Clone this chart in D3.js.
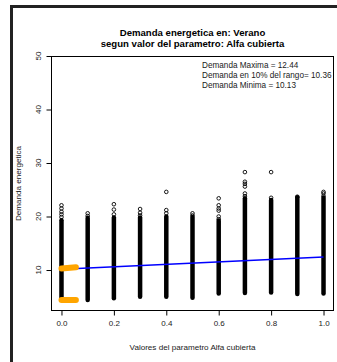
<!DOCTYPE html>
<html>
<head>
<meta charset="utf-8">
<script src="https://cdn.jsdelivr.net/npm/d3@7"></script>
<style>
html,body{margin:0;padding:0;background:#fff;}
svg{display:block;font-family:"Liberation Sans",Arial,Helvetica,sans-serif;}
</style>
</head>
<body>
<svg id="chart" width="337" height="362"></svg>
<script>
// ---- data ----
const categories = [0.0, 0.1, 0.2, 0.3, 0.4, 0.5, 0.6, 0.7, 0.8, 0.9, 1.0];
// dense part of each column (min and top of solid body)
const bodyLow  = [4.5, 4.4, 4.7, 5.0, 5.0, 4.8, 5.6, 5.7, 5.8, 5.5, 5.6];
const bodyHigh = [19.3, 19.7, 19.8, 19.8, 20.0, 19.9, 19.2, 23.4, 23.1, 23.6, 23.5];
// separately visible points above each column
const outliers = [
  [22.1, 21.5, 20.9, 20.4, 19.9],
  [20.6, 20.1],
  [22.3, 21.3, 20.4],
  [21.4, 20.7, 20.2],
  [24.6, 21.2, 20.6],
  [20.6, 20.2],
  [23.4, 22.1, 21.5, 21.1, 20.0, 19.5],
  [28.3, 26.5, 26.1, 25.6, 24.3, 23.8],
  [28.3, 23.5],
  [23.7],
  [24.6, 24.3, 23.8]
];
const yTicks = [10, 20, 30, 40, 50];
const xTicks = [0.0, 0.2, 0.4, 0.6, 0.8, 1.0];
const trendX = [0.0, 1.0];
const trendY = [10.13, 12.44];
const markX = [0.0, 0.055];
const markUpper = [10.30, 10.50];
const markLower = [4.39, 4.39];
const titleLines = ["Demanda energetica en: Verano", "segun valor del parametro: Alfa cubierta"];
const legendLines = ["Demanda Maxima = 12.44", "Demanda en 10% del rango= 10.36", "Demanda Minima = 10.13"];
const xLabel = "Valores del parametro Alfa cubierta";
const yLabel = "Demanda energetica";

// ---- layout ----
const L = 51, R = 334, T = 56, B = 311;
const svg = d3.select("#chart");
const x = d3.scaleLinear().domain([-0.04, 1.04]).range([L, R]);
const y = d3.scaleLinear().domain([2.34, 50]).range([B, T]);
const txt = "#1a1a1a";

// outer frame
svg.append("rect").attr("x", 11.5).attr("y", 6.5).attr("width", 400).attr("height", 400)
  .attr("fill", "none").attr("stroke", "#222").attr("stroke-width", 3);

// title
svg.selectAll("text.title").data(titleLines).enter().append("text")
  .attr("class", "title")
  .attr("x", (L + R) / 2).attr("y", (d, i) => 35.5 + i * 11.5)
  .attr("text-anchor", "middle").attr("font-weight", "bold").attr("font-size", 9.6)
  .attr("fill", "#000")
  .text(d => d);

// columns
const rr = 1.8, sw = 0.9;
const g = svg.append("g");
categories.forEach((c, i) => {
  g.append("rect")
    .attr("x", x(c) - rr - sw / 2).attr("width", 2 * rr + sw)
    .attr("y", y(bodyHigh[i]) - rr - sw / 2)
    .attr("height", y(bodyLow[i]) - y(bodyHigh[i]) + 2 * rr + sw)
    .attr("rx", rr + sw / 2).attr("fill", "#000");
  g.selectAll(null).data(outliers[i]).enter().append("circle")
    .attr("cx", x(c)).attr("cy", d => y(d)).attr("r", rr)
    .attr("fill", "none").attr("stroke", "#000").attr("stroke-width", sw);
});

// trend line
const line = d3.line().x(d => x(d[0])).y(d => y(d[1]));
svg.append("path").datum(trendX.map((v, i) => [v, trendY[i]]))
  .attr("d", line).attr("fill", "none").attr("stroke", "#0000ff").attr("stroke-width", 1.5);

// orange marks
[markUpper, markLower].forEach(arr => {
  svg.append("path").datum(markX.map((v, i) => [v, arr[i]]))
    .attr("d", line).attr("fill", "none").attr("stroke", "#ffa500")
    .attr("stroke-width", 6).attr("stroke-linecap", "round");
});

// box
svg.append("rect").attr("x", L + 0.5).attr("y", T + 0.5)
  .attr("width", R - L - 1).attr("height", B - T - 1)
  .attr("fill", "none").attr("stroke", "#000").attr("stroke-width", 1);

// y axis
const yAxis = svg.append("g").attr("transform", `translate(${L + 0.5},0)`)
  .call(d3.axisLeft(y).tickValues(yTicks).tickSize(5).tickFormat(d3.format("d")));
yAxis.select(".domain").remove();
yAxis.selectAll("text").attr("font-size", 8).attr("fill", txt)
  .attr("font-family", "Liberation Sans, Arial, sans-serif")
  .attr("x", null).attr("dy", null)
  .attr("transform", d => `translate(-13,${y(d)}) rotate(-90)`)
  .attr("y", 0).attr("text-anchor", "middle").attr("dominant-baseline", "central");
yAxis.selectAll(".tick").attr("transform", null);
yAxis.selectAll(".tick line").attr("transform", d => `translate(0,${y(d) + 0.5})`);

// x axis
const xAxis = svg.append("g").attr("transform", `translate(0,${B - 0.5})`)
  .call(d3.axisBottom(x).tickValues(xTicks).tickSize(5).tickFormat(d3.format(".1f")));
xAxis.select(".domain").remove();
xAxis.selectAll("text").attr("font-size", 8).attr("fill", txt)
  .attr("font-family", "Liberation Sans, Arial, sans-serif")
  .attr("y", 13).attr("dy", "0.35em");

// axis labels
svg.append("text").attr("x", (L + R) / 2).attr("y", 349.5)
  .attr("text-anchor", "middle").attr("font-size", 8.1).attr("fill", txt).text(xLabel);
svg.append("text").attr("transform", `translate(18,${(T + B) / 2}) rotate(-90)`)
  .attr("text-anchor", "middle").attr("dominant-baseline", "central")
  .attr("font-size", 8.1).attr("fill", txt).text(yLabel);

// legend text
svg.selectAll("text.leg").data(legendLines).enter().append("text")
  .attr("class", "leg").attr("x", 202).attr("y", (d, i) => 68 + i * 10)
  .attr("font-size", 8.2).attr("fill", txt).text(d => d);
</script>
</body>
</html>
